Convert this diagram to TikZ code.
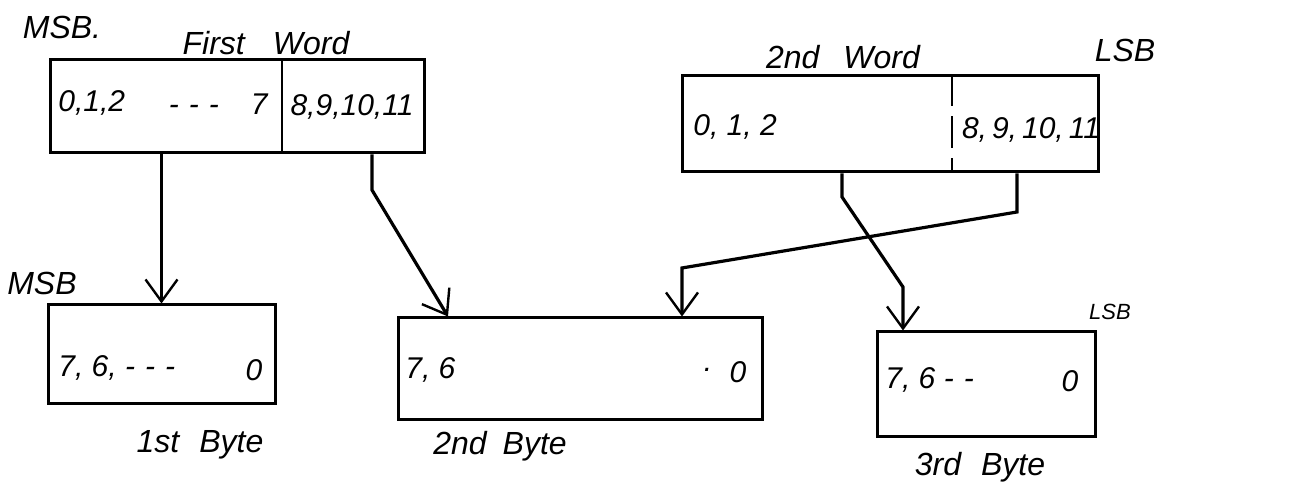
\documentclass[tikz,border=0pt]{standalone}
\usepackage{fontspec}
\setmainfont{Liberation Sans}
\usetikzlibrary{arrows.meta}
\begin{document}
\begin{tikzpicture}[x=0.5pt,y=-0.5pt,
  box/.style={draw, line width=1.5pt, inner sep=0pt},
  conn/.style={line width=1.6pt, -{Straight Barb[length=11pt,width=16pt,line width=1.2pt]}},
  lbl/.style={font=\fontsize{16}{18}\selectfont\itshape, inner sep=0pt},
  small/.style={font=\fontsize{11}{13}\selectfont\itshape, inner sep=0pt},
  num/.style={font=\fontsize{15}{18}\selectfont\itshape, inner sep=0pt}]
\useasboundingbox (0,0) rectangle (1298,491);
% boxes
\node[box, minimum width=187pt, minimum height=46.5pt] (w1) at (237,106.5) {};
\node[box, minimum width=208pt, minimum height=48pt] (w2) at (890,124) {};
\node[box, minimum width=113.5pt, minimum height=49.5pt] (b1) at (161.5,354.5) {};
\node[box, minimum width=182pt, minimum height=51pt] (b2) at (580,369) {};
\node[box, minimum width=109pt, minimum height=52.5pt] (b3) at (986,384.5) {};
% dividers
\draw[line width=1.2pt] (w1.north -| 282,0) -- (w1.south -| 282,0);
\draw[line width=1.2pt, dash pattern=on 16pt off 5pt] (w2.north -| 952,0) -- (w2.south -| 952,0);
% connectors
\draw[conn] (w1.south -| b1.north) -- (b1.north);
\draw[conn] (w1.south -| 372,0) -- (372,190) -- (b2.north -| 448,0);
\draw[conn] (w2.south -| 842,0) -- (842,197) -- (903,287) -- (b3.north -| 903,0);
\draw[conn] (w2.south -| 1017,0) -- (1017,212) -- (682,268) -- (b2.north -| 682,0);
% labels
\node[lbl] (lmsb1) at (62,27) {MSB.};
\node[lbl] (lfw) at (266,43) {First\hspace{14pt}Word};
\node[lbl] (lsw) at (843,57) {2nd\hspace{12pt}Word};
\node[lbl] (llsb1) at (1125,50) {LSB};
\node[lbl] (lmsb2) at (42,283) {MSB};
\node[small] (llsb2) at (1110,312) {LSB};
\node[lbl] (lb1) at (200,445) {1st\hspace{10pt}Byte};
\node[lbl] (lb2) at (500,446) {2nd\hspace{8pt}Byte};
\node[lbl] (lb3) at (980,467) {3rd\hspace{10pt}Byte};
% box contents
\node[num, anchor=west] (t1) at (58,103) {0,1,2};
\node[num, anchor=east] (t2) at (268,104) {-\,\,-\,\,-\hspace{16pt}7};
\node[num] (t3) at (352,107) {8,9,10,11};
\node[num, anchor=west] (t4) at (693,127) {0, 1, 2};
\node[num] (t5) at (1031,130) {8,\,9,\,10,\,11};
\node[num, anchor=west] (t6) at (58,368) {7, 6, -\,\,-\,\,-};
\node[num] (t7) at (254,370) {0};
\node[num, anchor=west] (t8) at (405,370) {7, 6};
\node[num] (t9) at (708,370) {.};
\node[num] (t10) at (738,372) {0};
\node[num, anchor=west] (t11) at (885,380) {7, 6 -\,\,-};
\node[num] (t12) at (1070,381) {0};
\end{tikzpicture}
\end{document}
